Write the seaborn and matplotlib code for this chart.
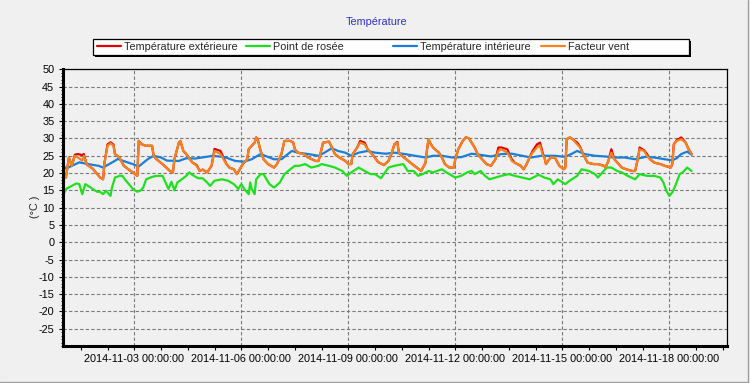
import pandas as pd
import matplotlib
matplotlib.use("Agg")
import matplotlib.pyplot as plt
import matplotlib.dates as mdates
from matplotlib.ticker import MultipleLocator
from matplotlib.patches import Rectangle
from matplotlib.lines import Line2D
import seaborn as sns

start = pd.Timestamp("2014-11-01 00:00:00")

# hours since start, shared by outdoor temperature and wind chill
hours_ext = [
    0, 2, 4, 6, 8, 10, 13, 14, 16, 20,
    25, 27, 28, 30, 32, 34, 35, 38, 41, 44,
    47, 50, 51, 53, 56, 60, 61, 63, 67, 72,
    74, 75, 78, 79, 81, 83, 87, 90, 92, 94,
    97, 100, 102, 106, 108, 110, 112, 115, 117, 119,
    121, 124, 125, 127, 129, 130, 131, 133, 135, 138,
    142, 144, 147, 149, 153, 155, 156, 158, 162, 165,
    170, 172, 174, 175, 179, 181, 183, 186, 190, 192,
    194, 195, 198, 200, 203, 205, 209, 212, 216, 219,
    221, 223, 225, 226, 228, 231, 235, 238, 241, 244,
    245, 246, 247, 249, 253, 255, 257, 260, 263, 264,
    266, 269, 271, 273, 275, 277, 279, 282, 285, 288,
    291, 293, 295, 299, 301, 302, 304, 308, 310, 312,
    314, 316, 319, 321, 323, 324, 325, 328, 331, 334,
    337, 338, 339, 341, 343, 346, 348, 350, 353, 357,
    360, 364, 365, 367, 369, 371, 374, 376, 379, 383,
    385, 387, 388, 391, 393, 395, 398, 402, 405, 409,
    410, 411, 413, 416, 419, 421, 423,
]
temp_ext = [
    20.2, 18.7, 24.5, 22.1, 25.3, 25.5, 25.2, 25.5, 22.5, 21.3,
    18.7, 18.2, 23.1, 28.3, 28.9, 28.2, 25.5, 24.5, 22.1, 21.1,
    20.2, 19.2, 29.3, 28.3, 27.9, 27.9, 25.0, 24.0, 22.6, 20.6,
    20.2, 24.0, 28.8, 29.3, 26.4, 25.5, 23.1, 22.3, 20.6, 21.0,
    20.2, 22.1, 27.0, 26.4, 24.5, 22.6, 21.6, 21.1, 19.7, 21.1,
    22.6, 24.0, 26.9, 27.9, 28.8, 30.3, 29.8, 26.4, 24.0, 22.6,
    21.6, 22.6, 25.5, 29.3, 29.3, 28.8, 26.9, 25.9, 25.5, 24.5,
    23.5, 23.5, 26.9, 28.8, 29.1, 27.4, 25.5, 24.5, 23.5, 22.6,
    22.6, 25.5, 27.4, 29.3, 28.8, 26.9, 25.0, 23.2, 22.3, 23.5,
    25.5, 28.3, 29.0, 25.9, 25.0, 24.0, 22.6, 21.6, 20.6, 23.0,
    26.9, 29.8, 28.8, 27.4, 25.9, 24.5, 22.6, 21.6, 21.6, 24.0,
    26.9, 29.3, 30.3, 30.1, 28.8, 27.4, 25.5, 24.0, 22.6, 22.1,
    24.0, 27.4, 27.4, 26.9, 25.0, 24.0, 23.0, 22.1, 21.1, 22.6,
    24.5, 26.4, 28.3, 28.8, 25.5, 24.5, 22.6, 24.5, 24.5, 22.1,
    21.1, 21.6, 29.8, 30.3, 29.8, 28.8, 27.6, 25.5, 23.0, 22.6,
    22.6, 22.1, 21.6, 23.5, 26.9, 24.0, 22.6, 21.6, 21.1, 20.6,
    20.6, 24.5, 27.4, 26.6, 25.5, 24.0, 23.0, 22.6, 22.1, 21.6,
    22.6, 28.3, 29.5, 30.3, 28.8, 26.9, 25.5,
]
facteur_vent = [
    20.2, 18.7, 24.5, 22.1, 25.0, 24.5, 23.6, 25.0, 22.5, 21.3,
    18.7, 18.2, 23.1, 27.9, 28.6, 27.9, 25.5, 24.5, 22.1, 21.1,
    20.2, 19.2, 29.3, 28.3, 27.9, 27.9, 25.0, 24.0, 22.6, 20.6,
    20.2, 24.0, 28.8, 29.3, 26.4, 25.5, 23.1, 22.1, 20.6, 21.0,
    20.2, 22.1, 26.4, 25.5, 24.0, 22.6, 21.6, 21.1, 19.7, 21.1,
    22.6, 24.0, 26.9, 27.9, 28.8, 30.3, 29.8, 26.4, 24.0, 22.6,
    21.6, 22.6, 25.5, 29.3, 29.3, 28.8, 26.9, 25.9, 25.5, 24.5,
    23.5, 23.5, 26.9, 28.8, 29.1, 27.4, 25.5, 24.5, 23.5, 22.6,
    22.6, 25.5, 27.4, 28.8, 28.3, 26.9, 25.0, 23.2, 22.3, 23.5,
    25.5, 28.3, 28.8, 25.9, 25.0, 24.0, 22.6, 21.6, 20.6, 23.0,
    26.9, 29.8, 28.8, 27.4, 25.9, 24.5, 22.6, 21.6, 21.6, 24.0,
    26.9, 29.3, 30.3, 30.1, 28.8, 27.4, 25.5, 24.0, 22.6, 22.1,
    24.0, 26.4, 26.9, 25.9, 24.5, 23.5, 23.0, 22.1, 21.1, 22.6,
    24.5, 25.9, 27.4, 28.0, 25.0, 24.5, 22.6, 24.5, 24.5, 22.1,
    21.1, 21.6, 29.8, 30.3, 29.8, 28.3, 27.4, 25.5, 23.0, 22.6,
    22.6, 22.1, 21.6, 23.5, 25.9, 24.0, 22.6, 21.6, 21.1, 20.6,
    20.6, 24.5, 26.9, 26.4, 25.0, 24.0, 23.0, 22.6, 22.1, 21.6,
    22.6, 28.3, 29.3, 29.8, 28.8, 26.9, 25.5,
]

hours_rosee = [
    0, 1, 2, 6, 9, 11, 13, 15, 17, 20,
    23, 25, 27, 29, 32, 33, 35, 38, 40, 42,
    45, 47, 50, 52, 54, 56, 60, 63, 67, 69,
    71, 73, 74, 75, 77, 80, 83, 85, 87, 91,
    94, 97, 99, 102, 107, 111, 115, 118, 120, 122,
    125, 126, 127, 129, 130, 133, 135, 137, 139, 142,
    146, 149, 153, 156, 159, 163, 167, 172, 174, 179,
    183, 188, 191, 194, 199, 203, 207, 210, 214, 216,
    219, 223, 229, 232, 236, 239, 242, 246, 249, 255,
    258, 264, 268, 272, 275, 277, 281, 284, 287, 291,
    295, 300, 304, 309, 314, 320, 324, 328, 330, 333,
    338, 341, 346, 349, 354, 358, 360, 363, 366, 369,
    373, 376, 380, 385, 388, 393, 398, 402, 404, 406,
    408, 410, 412, 415, 417, 420, 423,
]
point_rosee = [
    14.4, 14.4, 15.4, 16.3, 17.0, 16.8, 13.9, 16.8, 16.3, 15.4,
    14.6, 14.6, 13.9, 14.9, 13.4, 15.8, 18.7, 19.2, 19.2, 18.0,
    16.5, 15.4, 14.6, 14.9, 15.8, 18.2, 18.9, 19.2, 19.2, 17.3,
    15.4, 17.5, 16.3, 15.0, 17.3, 18.2, 19.2, 20.2, 19.5, 18.5,
    18.5, 17.3, 16.3, 17.8, 18.2, 17.8, 16.8, 15.4, 16.8, 15.4,
    13.9, 17.3, 15.4, 13.9, 18.2, 19.7, 19.7, 18.2, 16.8, 15.8,
    17.3, 19.7, 21.1, 22.1, 22.1, 22.6, 21.6, 22.1, 22.6, 22.1,
    21.6, 20.6, 19.2, 20.2, 21.6, 20.6, 19.7, 19.7, 18.5, 19.7,
    21.6, 22.1, 22.6, 20.6, 20.6, 19.2, 19.7, 20.6, 20.2, 21.1,
    20.2, 18.7, 19.2, 20.2, 20.6, 19.7, 20.6, 19.2, 18.2, 18.7,
    19.2, 19.7, 19.2, 18.7, 18.2, 19.5, 18.7, 18.2, 16.8, 18.2,
    16.8, 17.8, 19.2, 21.1, 20.6, 19.7, 18.7, 20.2, 21.6, 21.6,
    20.6, 20.2, 19.2, 18.2, 19.7, 19.2, 19.2, 18.7, 17.3, 14.9,
    13.4, 14.4, 16.3, 19.7, 20.2, 21.6, 20.6,
]

hours_int = [
    1, 2, 11, 17, 24, 27, 34, 37, 42, 47,
    51, 57, 61, 66, 70, 78, 83, 89, 92, 101,
    109, 116, 122, 127, 133, 136, 142, 147, 154, 158,
    165, 172, 176, 181, 185, 190, 194, 199, 205, 210,
    217, 223, 230, 237, 244, 249, 255, 262, 268, 275,
    282, 288, 295, 302, 309, 315, 322, 331, 338, 342,
    346, 351, 358, 365, 371, 378, 385, 392, 398, 405,
    410, 413, 416, 420, 423,
]
temp_int = [
    21.8, 21.3, 23.1, 22.6, 22.1, 21.6, 23.3, 24.1, 23.3, 22.6,
    21.9, 24.0, 25.0, 24.5, 23.6, 23.5, 24.3, 24.2, 24.4, 25.0,
    24.6, 23.5, 23.3, 24.0, 25.5, 25.0, 24.0, 24.0, 26.4, 25.9,
    25.5, 25.0, 25.9, 27.2, 26.4, 25.9, 25.0, 25.9, 26.4, 25.9,
    25.6, 25.9, 25.5, 25.0, 24.5, 25.0, 25.0, 24.5, 24.6, 25.6,
    25.2, 24.8, 25.5, 25.6, 25.0, 24.5, 25.0, 25.0, 24.7, 25.5,
    26.4, 25.5, 25.0, 24.8, 24.5, 24.5, 24.0, 24.7, 24.5, 24.0,
    23.7, 24.3, 25.5, 26.2, 25.3,
]

labels = ["Température extérieure", "Point de rosée",
          "Température intérieure", "Facteur vent"]
colors = ["#e00000", "#1ee01e", "#1a7fd8", "#f5841e"]

df_ext = pd.DataFrame({
    "time": start + pd.to_timedelta(hours_ext, unit="h"),
    "ext": temp_ext,
    "vent": facteur_vent,
})
df_rosee = pd.DataFrame({
    "time": start + pd.to_timedelta(hours_rosee, unit="h"),
    "rosee": point_rosee,
})
df_int = pd.DataFrame({
    "time": start + pd.to_timedelta(hours_int, unit="h"),
    "int": temp_int,
})

sns.set_style("ticks")
plt.rcParams["font.family"] = ["Liberation Sans", "DejaVu Sans"]
plt.rcParams["axes.unicode_minus"] = False

bg = "#f0f0f0"
fs = 7.8
fig, ax = plt.subplots(figsize=(7.5, 3.83), dpi=100)
fig.patch.set_facecolor(bg)
fig.subplots_adjust(left=0.0836, right=0.9697, bottom=0.0966, top=0.819)
ax.set_facecolor(bg)

lw = 1.6
sns.lineplot(data=df_ext, x="time", y="ext", ax=ax, color=colors[0], linewidth=lw)
sns.lineplot(data=df_rosee, x="time", y="rosee", ax=ax, color=colors[1], linewidth=lw)
sns.lineplot(data=df_int, x="time", y="int", ax=ax, color=colors[2], linewidth=lw)
sns.lineplot(data=df_ext, x="time", y="vent", ax=ax, color=colors[3], linewidth=lw)

ax.set_xlabel("")
ax.set_ylabel("")
ax.set_ylim(-30, 50)
ax.set_xlim(pd.Timestamp("2014-10-31 23:50"), pd.Timestamp("2014-11-19 15:00"))

ax.yaxis.set_major_locator(MultipleLocator(5))
ax.yaxis.set_minor_locator(MultipleLocator(1))
ax.set_yticks(range(-25, 51, 5))
ax.xaxis.set_major_locator(MultipleLocator(3))
ax.xaxis.set_minor_locator(MultipleLocator(0.75))
ax.xaxis.set_major_formatter(mdates.DateFormatter("%Y-%m-%d %H:%M:%S"))

ax.tick_params(axis="both", which="major", labelsize=fs, length=3, width=0.8,
               color="black", pad=3, labelcolor="black")
ax.tick_params(axis="x", which="minor", length=3, width=0.8, color="black")
ax.tick_params(axis="y", which="minor", length=1.2, width=0.6, color="black")

ax.grid(True, which="major", color="#7a7a7a", linestyle=(0, (3, 2)), linewidth=0.8)

for side in ["left", "bottom"]:
    ax.spines[side].set_linewidth(2.2)
    ax.spines[side].set_color("black")
for side in ["top", "right"]:
    ax.spines[side].set_visible(True)
    ax.spines[side].set_linewidth(0.9)
    ax.spines[side].set_color("black")

# title and y label
fig.text(376 / 750, 1 - 22 / 383, "Température", color="#3030c8",
         fontsize=fs, ha="center", va="center")
fig.text(35 / 750, 1 - 207 / 383, "(°C )", rotation=90, fontsize=fs,
         ha="center", va="center")

# legend box with shadow
fig.add_artist(Rectangle((95 / 750, 1 - 57 / 383), 596 / 750, 16 / 383,
                         transform=fig.transFigure, facecolor="black",
                         edgecolor="black", linewidth=0, zorder=1))
fig.add_artist(Rectangle((93 / 750, 1 - 55 / 383), 596 / 750, 16 / 383,
                         transform=fig.transFigure, facecolor="white",
                         edgecolor="black", linewidth=0.9, zorder=2))

legend_x = [97, 246, 393, 541]
for label, color, xp in zip(labels, colors, legend_x):
    handle = Line2D([], [], color=color, linewidth=lw)
    leg = fig.legend([handle], [label], loc="center left",
                     bbox_to_anchor=(xp / 750, 1 - 47 / 383),
                     frameon=False, fontsize=fs, handlelength=2.2,
                     handletextpad=0.3, borderpad=0, borderaxespad=0)
    leg.set_zorder(3)

# window edge lines
fig.add_artist(Line2D([0, 748 / 750], [1.5 / 383, 1.5 / 383],
                      transform=fig.transFigure, color="#a0a0a0", linewidth=1))
fig.add_artist(Line2D([748 / 750, 748 / 750], [1.5 / 383, 1],
                      transform=fig.transFigure, color="#a0a0a0", linewidth=1))

fig.savefig("out.png", dpi=100, facecolor=fig.get_facecolor())
